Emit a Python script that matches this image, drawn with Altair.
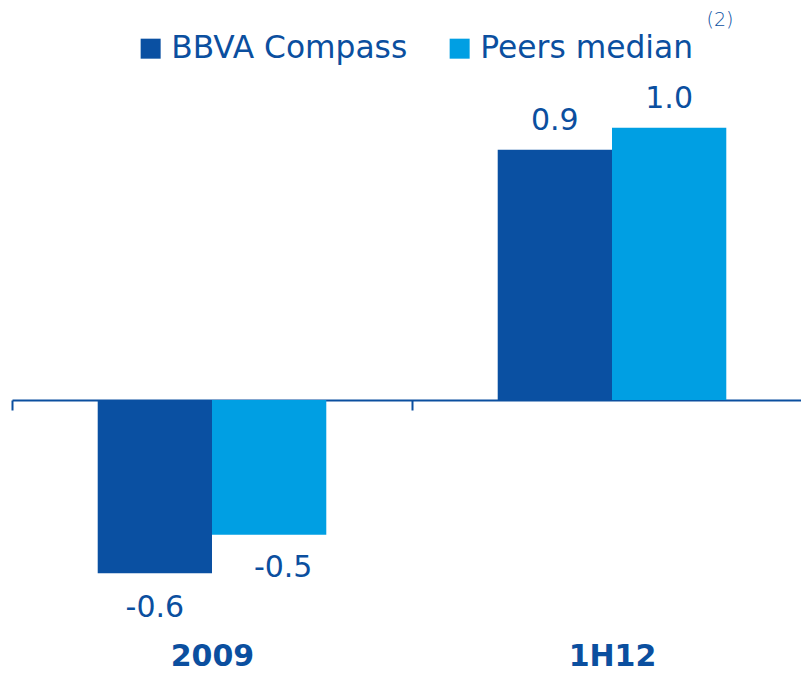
import altair as alt
import pandas as pd

categories = ["2009", "1H12"]
series = ["BBVA Compass", "Peers median"]
bbva_values = [-0.63, 0.91]
peers_values = [-0.49, 0.99]
note_text = ["(2)"]

colors = ["#0a50a2", "#009fe3"]
text_color = "#0b4f9f"

rows = []
for i, c in enumerate(categories):
    rows.append({"period": c, "series": series[0], "value": bbva_values[i]})
    rows.append({"period": c, "series": series[1], "value": peers_values[i]})
df = pd.DataFrame(rows)

x_enc = alt.X(
    "period:N",
    sort=categories,
    title=None,
    scale=alt.Scale(domain=categories, range=[0, 800], paddingInner=0, paddingOuter=0),
    axis=alt.Axis(
        orient="bottom", offset=-220, domainColor=text_color, domainWidth=2,
        ticks=True, tickBand="extent", tickColor=text_color, tickWidth=2, tickSize=10,
        labelFont="DejaVu Sans", labelFontSize=30, labelFontWeight="bold",
        labelColor=text_color, labelPadding=231, labelAngle=0, grid=False,
    ),
)
xoff = alt.XOffset("series:N", sort=series,
                   scale=alt.Scale(domain=series, paddingInner=0, paddingOuter=0.75))
y_enc = alt.Y("value:Q", scale=alt.Scale(domain=[-0.8, 1.2]), axis=None, stack=None)

base = alt.Chart(df).transform_calculate(
    label="replace(format(datum.value, '.1f'), '\u2212', '-')"
)

bars = base.mark_bar().encode(
    x=x_enc, xOffset=xoff, y=y_enc,
    color=alt.Color(
        "series:N", sort=series,
        scale=alt.Scale(domain=series, range=colors),
        legend=alt.Legend(
            title=None, orient="none", legendX=123, legendY=-37,
            direction="horizontal", symbolType="square", symbolSize=400,
            symbolStrokeWidth=0, symbolOpacity=1, labelFont="DejaVu Sans", labelFontSize=31.3,
            labelColor=text_color, labelOffset=5, columnPadding=36, padding=0,
            labelLimit=0,
        ),
    ),
)

text_common = dict(font="DejaVu Sans", fontSize=30, color=text_color, baseline="alphabetic")

pos_labels = base.transform_filter("datum.value >= 0").mark_text(dy=-19.5, **text_common).encode(
    x=x_enc, xOffset=xoff, y=y_enc, text="label:N")
neg_labels_a = base.transform_filter(
    "datum.value < 0 && datum.series == 'BBVA Compass'"
).mark_text(dy=44, **text_common).encode(x=x_enc, xOffset=xoff, y=y_enc, text="label:N")
neg_labels_b = base.transform_filter(
    "datum.value < 0 && datum.series == 'Peers median'"
).mark_text(dy=42, dx=14, **text_common).encode(x=x_enc, xOffset=xoff, y=y_enc, text="label:N")

note = alt.Chart(pd.DataFrame({"note": note_text})).mark_text(
    font="DejaVu Sans", fontSize=19, fontWeight=300, color=text_color,
    align="center", baseline="middle",
).encode(text="note:N", x=alt.value(708), y=alt.value(-50))

chart = alt.layer(bars, pos_labels, neg_labels_a, neg_labels_b, note).properties(
    width=789, height=550,
    autosize=alt.AutoSizeParams(type="none"),
    padding={"left": 4, "top": 62, "right": 0, "bottom": 52},
).configure_view(stroke=None)

chart.save("out.html", embed_options={"renderer": "svg", "actions": False})
